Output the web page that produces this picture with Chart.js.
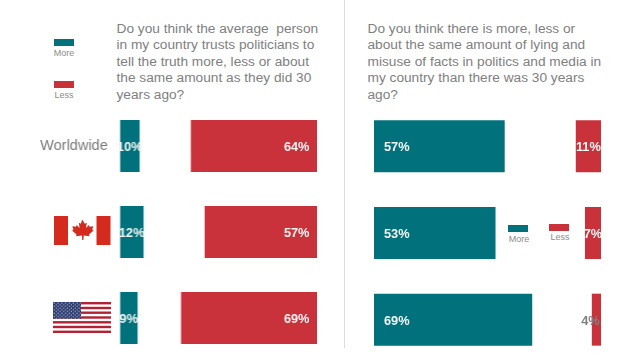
<!DOCTYPE html>
<html>
<head>
<meta charset="utf-8">
<script src="https://cdn.jsdelivr.net/npm/chart.js@4"></script>
<style>
  html, body { margin:0; padding:0; background:#fff; overflow:hidden; }
  body { position:relative; width:635px; height:357px; font-family:"Liberation Sans", Arial, sans-serif; color:#808080; }
  canvas { position:absolute; }
  .q { position:absolute; top:20.5px; font-size:13.7px; line-height:16.6px; white-space:nowrap; }
  .swatch { position:absolute; width:20px; }
  .key { position:absolute; width:30px; text-align:center; font-size:9px; line-height:10px; color:#8c8c8c; }
  .divider { position:absolute; left:344px; top:0; width:1px; height:348px; background:#dcdcdc; }
  svg { position:absolute; }
</style>
</head>
<body>
<div class="divider"></div>

<div class="q" style="left:116.5px">Do you think the average&nbsp; person<br>in my country trusts politicians to<br>tell the truth more, less or about<br>the same amount as they did 30<br>years ago?</div>
<div class="q" style="left:367.5px">Do you think there is more, less or<br>about the same amount of lying and<br>misuse of facts in politics and media in<br>my country than there was 30 years<br>ago?</div>

<div class="swatch" style="left:54px;top:38.5px;height:7px;background:#01727c"></div>
<div class="key" style="left:49px;top:48px">More</div>
<div class="swatch" style="left:54px;top:80.5px;height:7.5px;background:#c9313b"></div>
<div class="key" style="left:49px;top:90px">Less</div>
<div class="swatch" style="left:508px;top:224.5px;height:7.5px;background:#01727c"></div>
<div class="key" style="left:504px;top:234px">More</div>
<div class="swatch" style="left:549px;top:224px;height:6.5px;background:#c9313b"></div>
<div class="key" style="left:545px;top:232px">Less</div>

<!-- Canada -->
<svg style="left:54px;top:216px" width="57" height="29" viewBox="0 0 57 29" aria-label="Canada">
  <rect x="0" y="0" width="14" height="29" fill="#d52b1e"/>
  <rect x="42.5" y="0" width="14" height="29" fill="#d52b1e"/>
  <path fill="#d52b1e" d="M28.2 3.5l2.6 4.2 2-.9-.8 5.2 2.9-2.9.8 1.7 3.6-.6-1.1 3.6 1.4.8-4.6 3.9.6 1.8-5.9-.7-.3 4.4h-1.2l-.3-4.4-5.9.7.6-1.8-4.6-3.9 1.4-.8-1.1-3.6 3.6.6.8-1.7 2.9 2.9-.8-5.2 2 .9z"/>
</svg>

<!-- United States -->
<svg style="left:52.5px;top:302px" width="58" height="31" viewBox="0 0 58 31" aria-label="United States">
  <defs>
    <pattern id="stars" width="3.8" height="3.4" patternUnits="userSpaceOnUse">
      <circle cx="1.2" cy="1" r=".55" fill="#fff"/>
      <circle cx="3.1" cy="2.7" r=".55" fill="#fff"/>
    </pattern>
  </defs>
  <rect width="58" height="31" fill="#fff"/>
  <g fill="#b22234">
    <rect y="0" width="58" height="2.4"/><rect y="4.8" width="58" height="2.4"/>
    <rect y="9.5" width="58" height="2.4"/><rect y="14.3" width="58" height="2.4"/>
    <rect y="19.1" width="58" height="2.4"/><rect y="23.8" width="58" height="2.4"/>
    <rect y="28.6" width="58" height="2.4"/>
  </g>
  <rect width="28" height="16.7" fill="#2a3a70"/>
  <rect width="28" height="16.7" fill="url(#stars)"/>
</svg>

<canvas id="chart-trust" style="left:0;top:103px;width:316.5px;height:258px"></canvas>
<canvas id="chart-lying" style="left:373.7px;top:103px;width:227px;height:260px"></canvas>

<script>
const tickLabels = ['Worldwide', '', ''];

// Trust in politicians
const trustMore = [10, 12, 9];
const trustSame = [26, 31, 22];
const trustLess = [64, 57, 69];

// Lying and misuse of facts
const lyingMore = [57, 53, 69];
const lyingSame = [31, 39, 26];
const lyingLess = [11, 7, 4];

const TEAL = '#01727c', RED = '#c9313b', WHITE = '#f4f4f4', GREY = '#808080';
const FONT = '"Liberation Sans", Arial, sans-serif';

// Values printed on the bars; labelAt picks the spot inside each bar
const barLabels = {
  id:'barLabels',
  afterDatasetsDraw(chart) {
    const ctx = chart.ctx;
    ctx.save();
    ctx.font = 'bold 12.8px ' + FONT;
    ctx.textBaseline = 'middle';
    chart.data.datasets.forEach((ds, i) => {
      if (!ds.labelAt) return;
      chart.getDatasetMeta(i).data.forEach((bar, j) => {
        const spot = ds.labelAt(bar, j);
        ctx.textAlign = spot.align;
        ctx.fillStyle = spot.color || WHITE;
        ctx.fillText(ds.data[j] + '%', spot.x, bar.y + 1.5);
      });
    });
    // row names sit left of the plot area, the y axis itself stays hidden
    if (chart.options.layout.padding.left > 0) {
      const y = chart.scales.y;
      ctx.font = '14.5px ' + FONT;
      ctx.fillStyle = '#7a7a7a';
      ctx.textAlign = 'right';
      chart.data.labels.forEach((name, j) => {
        ctx.fillText(name, chart.chartArea.left - 12, y.getPixelForValue(j));
      });
    }
    ctx.restore();
  }
};

function centre(bar) { return (bar.base + bar.x) / 2; }

function stackChart(id, more, same, less, band, total, moreAt, lessAt, left) {
  new Chart(document.getElementById(id), {
    type:'bar',
    data:{
      labels:tickLabels,
      datasets:[
        { label:'More', data:more, backgroundColor:TEAL, labelAt:moreAt },
        { label:'About the same', data:same, backgroundColor:'transparent' },
        { label:'Less', data:less, backgroundColor:RED, labelAt:lessAt },
      ]
    },
    options:{
      indexAxis:'y', responsive:false, animation:false,
      datasets:{ bar:{ categoryPercentage:band, barPercentage:1, borderWidth:0 } },
      layout:{ padding:{ left, right:0, top:0, bottom:0 } },
      plugins:{ legend:{ display:false }, tooltip:{ enabled:false } },
      scales:{
        x:{ stacked:true, min:0, max:total, display:false },
        y:{ stacked:true, display:false },
      },
    },
    plugins:[barLabels],
  });
}

stackChart('chart-trust', trustMore, trustSame, trustLess, 52 / 86, 100,
  bar => ({ x:centre(bar), align:'center' }),
  bar => ({ x:bar.x - 7.5, align:'right' }),
  119.5);

stackChart('chart-lying', lyingMore, lyingSame, lyingLess, 52 / 86.7, 99,
  bar => ({ x:bar.base + 10, align:'left' }),
  (bar, j) => j === 2
    ? { x:centre(bar) - 6, align:'center', color:GREY }
    : { x:centre(bar), align:'center' },
  0);
</script>
</body>
</html>
